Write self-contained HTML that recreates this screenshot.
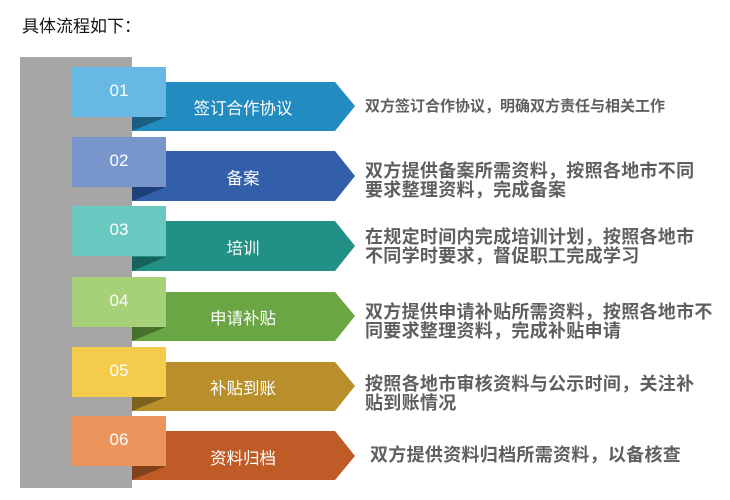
<!DOCTYPE html>
<html><head><meta charset="utf-8"><style>
body{margin:0;width:730px;height:500px;background:#fff;position:relative;overflow:hidden;font-family:"Liberation Sans","Noto Sans CJK SC",sans-serif}
.a{position:absolute}
.box{position:absolute;left:72px;width:94px;height:50px;color:#fff;font-size:17px;text-align:center;line-height:48px}
.lab{position:absolute;left:160px;width:166px;text-align:center;color:#fff;font-size:16.5px}
.d{position:absolute;left:365px;color:#5f5f5f;font-size:18px;font-weight:bold;line-height:19px;white-space:nowrap;letter-spacing:0.3px}
</style></head><body>
<div class="a" style="left:22px;top:12px;font-size:17px;color:#111">具体流程如下：</div>
<div class="a" style="left:20px;top:57px;width:112px;height:431px;background:#a5a6a5"></div>
<svg class="a" style="left:0;top:0" width="730" height="500">
<g>
<polygon points="132,82 335,82 355,106 335,131 132,131" fill="#228bc0"/><polygon points="132,117 166,117 132,131" fill="#1b5e80"/>
<polygon points="132,151 335,151 355,176 335,201 132,201" fill="#335ea9"/><polygon points="132,187 166,187 132,201" fill="#1e3f7a"/>
<polygon points="132,221 335,221 355,246 335,271 132,271" fill="#229085"/><polygon points="132,257 166,257 132,271" fill="#17635b"/>
<polygon points="132,292 335,292 355,316 335,341 132,341" fill="#6aa643"/><polygon points="132,327 166,327 132,341" fill="#47702d"/>
<polygon points="132,362 335,362 355,386 335,411 132,411" fill="#b98f2c"/><polygon points="132,397 166,397 132,411" fill="#7d611e"/>
<polygon points="132,431 335,431 355,456 335,480 132,480" fill="#bf5b26"/><polygon points="132,466 166,466 132,480" fill="#82401b"/>
</g></svg>
<div class="box" style="top:67px;background:#67b9e3">01</div>
<div class="box" style="top:137px;background:#7896cc">02</div>
<div class="box" style="top:206px;background:#69c8bf">03</div>
<div class="box" style="top:277px;background:#a6d178">04</div>
<div class="box" style="top:347px;background:#f5cb4b">05</div>
<div class="box" style="top:416px;background:#eb955d">06</div>
<div class="lab" style="top:95px">签订合作协议</div>
<div class="lab" style="top:165px">备案</div>
<div class="lab" style="top:235px">培训</div>
<div class="lab" style="top:305px">申请补贴</div>
<div class="lab" style="top:375px">补贴到账</div>
<div class="lab" style="top:445px">资料归档</div>
<div class="d" style="top:97px;font-size:15px;letter-spacing:0">双方签订合作协议，明确双方责任与相关工作</div>
<div class="d" style="top:162px">双方提供备案所需资料，按照各地市不同<br>要求整理资料，完成备案</div>
<div class="d" style="top:228px">在规定时间内完成培训计划，按照各地市<br>不同学时要求，督促职工完成学习</div>
<div class="d" style="top:303px">双方提供申请补贴所需资料，按照各地市不<br>同要求整理资料，完成补贴申请</div>
<div class="d" style="top:375px">按照各地市审核资料与公示时间，关注补<br>贴到账情况</div>
<div class="d" style="top:446px;left:370px">双方提供资料归档所需资料，以备核查</div>
</body></html>
